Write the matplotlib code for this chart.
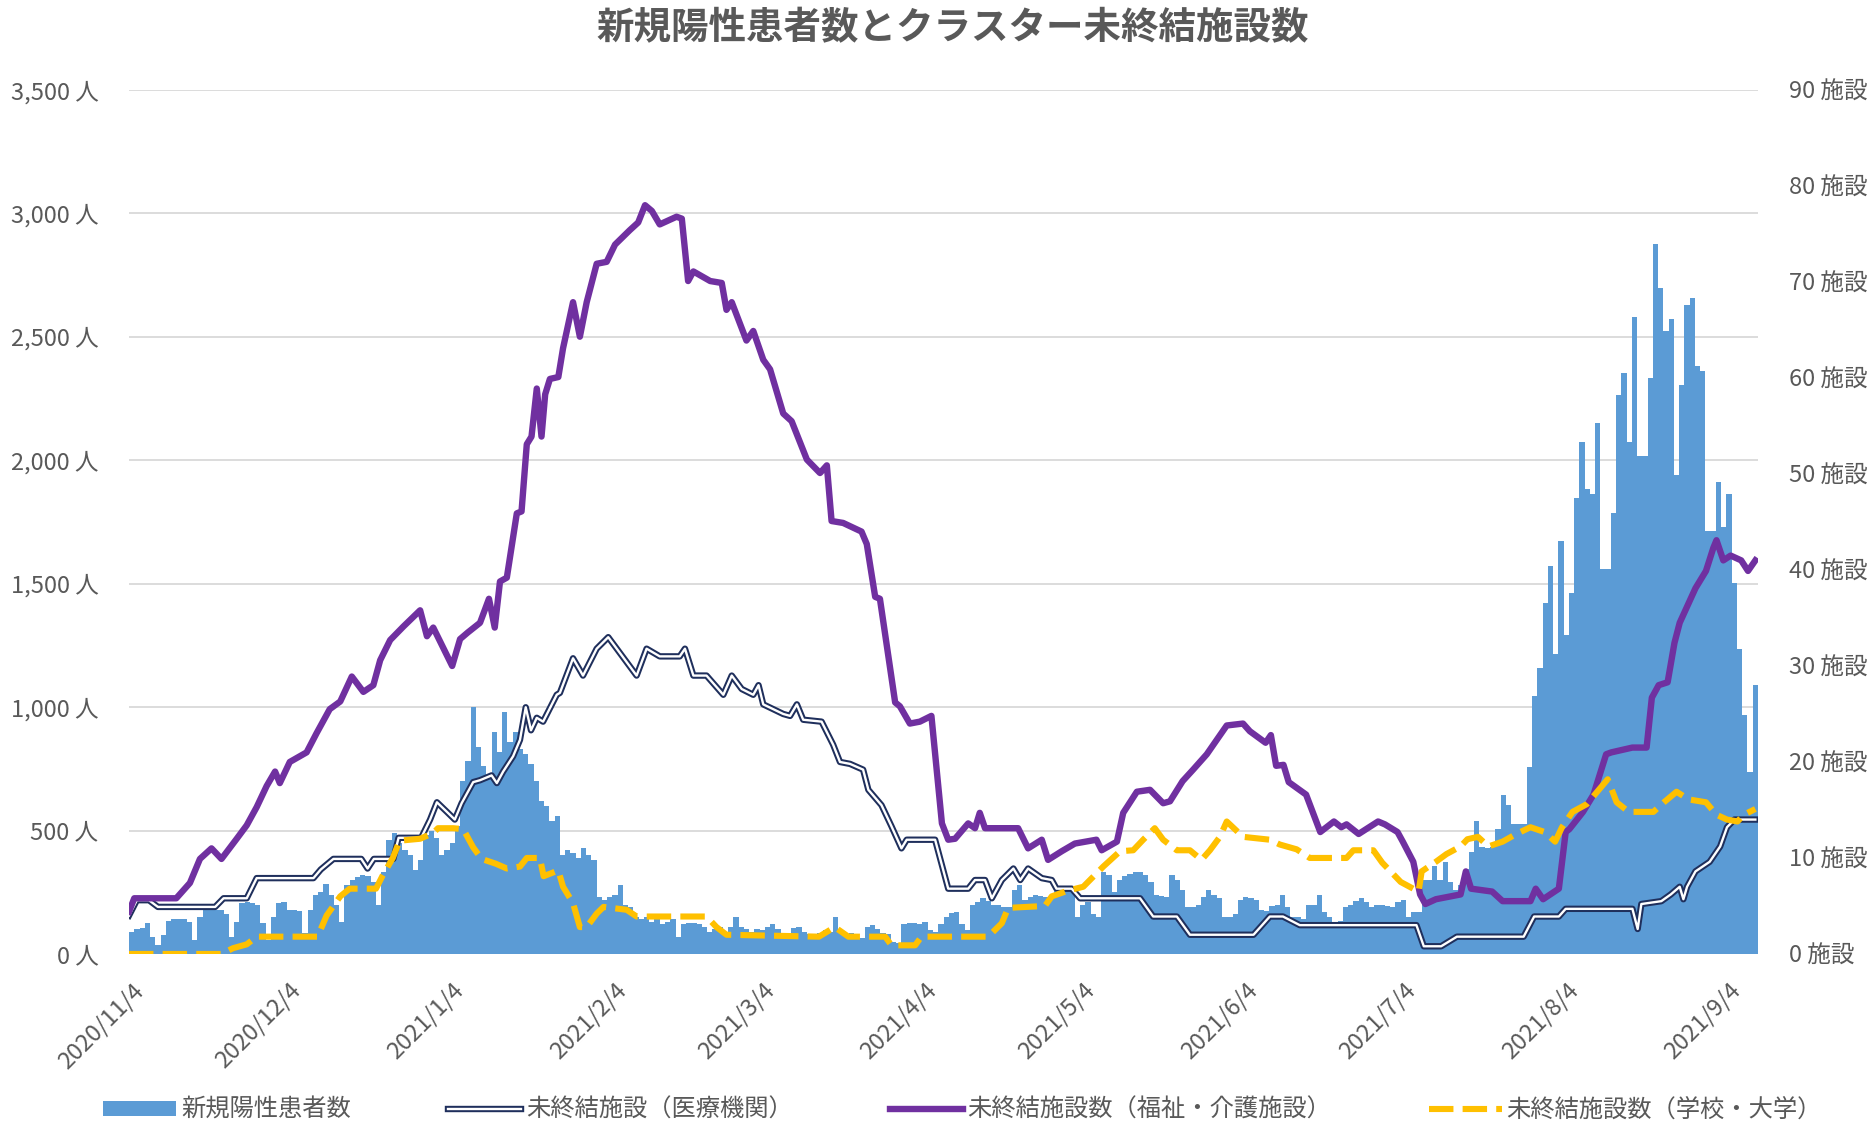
import matplotlib
matplotlib.use('Agg')
import matplotlib.pyplot as plt
import numpy as np
import pandas as pd
from matplotlib.lines import Line2D
from matplotlib.patches import Patch

plt.rcParams['font.family'] = ['Noto Sans CJK JP', 'DejaVu Sans']

# ---------------- data ----------------
start_date = '2020-11-04'
end_date = '2021-09-09'
tick_dates = ['2020/11/4', '2020/12/4', '2021/1/4', '2021/2/4', '2021/3/4', '2021/4/4',
              '2021/5/4', '2021/6/4', '2021/7/4', '2021/8/4', '2021/9/4']
left_ticks = [0, 500, 1000, 1500, 2000, 2500, 3000, 3500]
right_ticks = [0, 10, 20, 30, 40, 50, 60, 70, 80, 90]

# daily new positive cases (one value per day from 2020/11/4)
new_cases = [
    90, 100, 105, 125, 70, 35, 75,
    135, 140, 140, 140, 130, 57, 150,
    180, 180, 180, 180, 160, 70, 130,
    205, 210, 205, 200, 125, 57, 150,
    205, 210, 180, 180, 175, 84, 180,
    240, 250, 285, 240, 200, 130, 280,
    300, 310, 320, 315, 290, 200, 330,
    460, 490, 450, 420, 400, 340, 380,
    480, 500, 470, 400, 420, 450, 520,
    700, 780, 1000, 840, 760, 710, 900,
    820, 980, 860, 900, 830, 810, 770,
    700, 620, 600, 540, 560, 400, 420,
    410, 390, 430, 400, 380, 230, 220,
    230, 240, 280, 200, 190, 150, 140,
    150, 130, 140, 120, 130, 140, 70,
    120, 125, 125, 120, 110, 90, 100,
    110, 90, 110, 150, 110, 100, 90,
    100, 95, 110, 120, 100, 85, 80,
    105, 110, 90, 80, 70, 85, 95,
    90, 150, 90, 80, 85, 70, 65,
    110, 117, 100, 85, 80, 50, 45,
    120, 124, 124, 120, 130, 95, 90,
    120, 150, 165, 170, 120, 95, 200,
    210, 225, 215, 200, 200, 190, 190,
    260, 280, 220, 230, 240, 235, 230,
    240, 255, 260, 260, 255, 150, 200,
    210, 160, 150, 330, 320, 250, 300,
    315, 325, 333, 333, 320, 290, 240,
    235, 232, 320, 300, 259, 192, 190,
    200, 230, 259, 240, 225, 151, 150,
    160, 220, 232, 225, 220, 178, 175,
    195, 200, 239, 190, 151, 150, 140,
    198, 200, 240, 170, 151, 131, 135,
    190, 200, 215, 225, 210, 190, 200,
    200, 195, 190, 210, 220, 150, 170,
    170, 300, 300, 355, 300, 374, 290,
    260, 280, 346, 413, 537, 432, 430,
    435, 508, 642, 604, 527, 527, 527,
    757, 1043, 1158, 1420, 1570, 1215, 1674,
    1292, 1464, 1846, 2075, 1884, 1865, 2151,
    1560, 1560, 1788, 2266, 2352, 2075, 2581,
    2018, 2018, 2333, 2877, 2696, 2524, 2572,
    1941, 2304, 2629, 2658, 2381, 2362, 1712,
    1712, 1912, 1731, 1865, 1502, 1234, 967,
    737, 1091,
]

# unresolved clusters: medical institutions (day offset, count)
medical_days = [0, 1.5, 3.8, 5.5, 16.4, 18, 22.4, 24.3, 35.1, 36.5, 38.9, 44.2, 45.4, 46.6,
                50.3, 51.3, 55.6, 57.3, 58.6, 60.5, 62, 63.3, 65.5, 66.8, 69, 70, 71.2, 73.1,
                74.4, 75.5, 76.5, 77.6, 78.8, 81.4, 82, 84.5, 86.4, 89, 91.2, 96.6, 98.5, 101,
                104.8, 105.8, 107.4, 109.9, 113.1, 114.7, 116.6, 118.8, 119.8, 120.7, 124.5,
                125.8, 127.1, 128.3, 131.8, 134, 135.3, 137.2, 139.7, 140.7, 143.2, 145.1, 147,
                148, 153.4, 155.9, 159.7, 161, 162.9, 164.2, 166.1, 168.3, 169.6, 171.1, 173.7,
                175.6, 176.5, 179.4, 181, 192.4, 194.9, 199.4, 201.9, 214, 217.1, 219.6, 222.8,
                245, 246.4, 249.7, 252.7, 265.4, 267.4, 272.1, 273.4, 286.1, 287.1, 287.8,
                291.6, 293.4, 295.1, 295.8, 296.5, 298.1, 300.8, 302.8, 304.1, 305.5, 309.5]
medical_vals = [4.0, 5.6, 5.6, 4.9, 4.9, 5.8, 5.8, 7.9, 7.9, 8.8, 9.9, 9.9, 8.9, 9.9,
                9.9, 12.1, 12.1, 14.0, 15.8, 14.8, 14.0, 15.7, 17.9, 18.1, 18.6, 17.8, 19.0, 20.6,
                22.3, 25.7, 23.3, 24.6, 24.2, 27.0, 27.2, 30.8, 29.0, 31.8, 33.0, 29.0, 31.8, 31.0,
                31.0, 31.8, 29.0, 29.0, 27.0, 29.0, 27.6, 27.0, 28.0, 26.0, 25.0,
                24.8, 26.0, 24.4, 24.2, 21.8, 20.0, 19.8, 19.2, 17.1, 15.5, 13.3, 11.0,
                11.9, 11.9, 6.8, 6.8, 7.7, 7.7, 5.8, 7.7, 8.9, 7.7, 8.9, 7.9,
                7.7, 6.8, 6.8, 5.8, 5.8, 3.9, 3.9, 2.0, 2.0, 3.9, 3.9, 3.0,
                3.0, 0.8, 0.8, 1.8, 1.8, 3.9, 3.9, 4.7, 4.7, 2.6, 5.2,
                5.5, 6.2, 7.0, 5.7, 7.0, 8.6, 9.6, 11.2, 13.2, 14.0, 14.0]

# unresolved clusters: welfare / care facilities
welfare_days = [0, 1, 9, 11.6, 13.5, 15.7, 17.6, 20.5, 22.4, 24.3, 26.2, 27.8, 28.7, 30.6, 33.8,
                35.7, 38.2, 40.2, 42.4, 44.6, 46.5, 47.8, 49.7, 52.2, 55.4, 56.7, 57.9, 61.5, 63,
                64.5, 66.8, 68.5, 69.6, 70.6, 71.9, 73.8, 74.7, 75.7, 76.6, 77.6, 78.5, 79.2, 80.1,
                81.7, 82.6, 84.5, 85.8, 87.1, 89, 90.9, 92.5, 95.3, 96.9, 98.2, 99.5, 101, 104.2,
                105.2, 106.4, 107.4, 110.6, 112.8, 113.7, 114.7, 117.5, 118.8, 120.7, 122, 124.5,
                126.1, 129, 131.5, 132.8, 133.7, 135.9, 139.4, 140.4, 142, 142.9, 145.8, 146.7,
                148.6, 150.5, 152.7, 154.7, 155.9, 157.2, 159.7, 161, 161.9, 162.9, 169.2, 171.1,
                173.7, 174.9, 177.5, 180, 184.1, 185.1, 188, 189.2, 191.8, 194.3, 196.8, 198.1,
                200.5, 202.5, 205.1, 208.9, 212, 213.3, 216.3, 217.3, 218.3, 219.7, 220.7, 224,
                226.7, 229.3, 230.7, 231.7, 234, 237.7, 239, 241.4, 242.4, 244.4, 245.7, 246.7,
                248.7, 253.4, 254.4, 255.4, 259.4, 261.4, 266.7, 267.7, 269.1, 272.1, 273.4,
                274.1, 276.7, 278.7, 281.1, 282.1, 286.1, 288.8, 289.8, 291.1, 292.8, 294.1,
                295.1, 298.1, 300.1, 301.5, 302.1, 303.4, 304.8, 306.8, 308.1, 309.5]
welfare_vals = [4.4, 5.8, 5.8, 7.4, 9.9, 11.0, 9.9, 12.0, 13.4, 15.3, 17.5, 19.0, 17.8, 20.0, 21.0,
                23.0, 25.5, 26.3, 28.9, 27.3, 28.0, 30.6, 32.7, 34.1, 35.8, 33.1, 34.0, 30.0, 32.8,
                33.5, 34.5, 37.0, 34.0, 38.8, 39.2, 45.9, 46.1, 53.1, 53.9, 58.9, 53.9, 58.3, 59.9,
                60.1, 63.1, 67.9, 64.3, 67.9, 71.9, 72.1, 73.9, 75.4, 76.2, 78.0, 77.4, 76.0, 76.8,
                76.6, 70.1, 71.1, 70.1, 69.9, 67.1, 67.9, 63.9, 64.9, 61.9, 60.9, 56.3,
                55.5, 51.5, 50.1, 50.9, 45.1, 44.9, 44.0, 42.7, 37.2, 37.0, 26.2, 25.8,
                24.0, 24.2, 24.8, 13.6, 11.9, 12.0, 13.6, 13.1, 14.7, 13.1, 13.1, 11.0,
                11.9, 9.8, 10.7, 11.5, 11.9, 10.8, 11.7, 14.7, 16.9, 17.1, 15.7, 15.9,
                18.0, 19.2, 20.8, 23.8, 24.0, 23.2, 22.0, 22.8, 19.6, 19.7, 17.9, 16.6,
                12.7, 13.8, 13.2, 13.5, 12.5, 13.8, 13.5, 12.7, 11.7, 9.6, 6.2, 5.2,
                5.7, 6.2, 8.6, 6.8, 6.5, 5.5, 5.5, 6.8, 5.7, 6.8, 12.7,
                13.0, 14.8, 16.6, 20.8, 21.0, 21.5, 21.5, 26.7, 28.0, 28.3, 32.4,
                34.5, 38.1, 39.9, 42.3, 43.1, 41.0, 41.5, 41.0, 39.9, 41.0]

# unresolved clusters: schools / universities
school_days = [0, 17.6, 19.8, 22.4, 24.3, 35.9, 37.6, 40.2, 42, 47, 48.3, 50.2, 51.5, 55.4, 57.9,
               58.8, 61.7, 63.6, 65.5, 67.1, 69.8, 71.9, 74.4, 75.7, 78.2, 78.9, 81.7, 82.6, 84.5,
               85.8, 87.1, 89, 90.3, 94.7, 96.6, 109.9, 111.8, 113.7, 131.3, 134.3, 136.9, 143.9,
               145.1, 149.6, 150.8, 163.5, 166.1, 167.3, 174.3, 175.6, 178.7, 181.6, 185.4, 188.6,
               191.1, 193, 195.2, 196.8, 199.4, 201.9, 204.1, 205.7, 207.6, 208.9, 212, 217.1,
               219, 222.2, 224.7, 231.7, 233, 236.8, 238.5, 242, 245.4, 246, 248.7, 250.7, 253.4,
               254.7, 256.7, 258.7, 261.4, 264, 266.7, 269.4, 271.4, 272.7, 274.7, 277.4, 279.4,
               281.4, 283.1, 285.4, 290.1, 292.1, 294.5, 296.8, 300.1, 302.1, 304.1, 306.1,
               307.3, 309.5]
school_vals = [0, 0, 0.6, 1.0, 1.8, 1.8, 4.0, 6.0, 6.8, 6.8, 8.2, 10.0, 11.8, 12.0, 12.6,
               13.1, 13.1, 13.0, 11.1, 9.9, 9.4, 8.9, 9.1, 10.0, 10.0, 8.1, 8.7, 7.0, 5.3,
               2.8, 2.8, 4.2, 4.9, 4.6, 3.9, 3.9, 2.8, 2.0, 1.8, 2.8, 1.8, 1.8,
               0.9, 0.9, 1.8, 1.8, 3.2, 4.8, 5.0, 6.0, 6.6, 7.0, 9.1, 10.7,
               10.8, 11.9, 13.1, 11.9, 10.8, 10.8, 9.8, 10.8, 12.2, 13.8, 12.2, 11.9,
               11.4, 10.9, 10.0, 10.0, 10.8, 10.8, 9.5, 7.5, 6.5, 8.6, 9.6, 10.4, 11.2,
               11.95, 12.2, 11.2, 11.7, 12.5, 13.2, 12.7, 11.7, 13.2, 14.8, 15.6, 16.9,
               18.2, 15.8, 14.8, 14.8, 15.8, 16.9, 16.1, 15.8, 14.5, 14.0, 13.8,
               14.5, 15.1]

legend_labels = ['新規陽性患者数', '未終結施設（医療機関）', '未終結施設数（福祉・介護施設）', '未終結施設数（学校・大学）']
title = '新規陽性患者数とクラスター未終結施設数'

# ---------------- drawing ----------------
BAR = '#5B9BD5'
NAVY = '#1F2F5C'
PURPLE = '#7030A0'
YELLOW = '#FFC000'
TXT = '#595959'

dates = pd.date_range(start_date, end_date)
n = len(dates)
x_bar = np.arange(n) + 0.5

fig = plt.figure(figsize=(18.75, 11.28), dpi=100)
ax = fig.add_axes([0.0688, 0.1543, 0.8688, 0.7659])
ax.bar(x_bar, new_cases, width=1.0, color=BAR, zorder=2, linewidth=0)
ax.set_xlim(0, n)
ax.set_ylim(0, 3500)
ax.set_yticks(left_ticks)
ax.set_yticklabels([f'{v:,} 人' for v in left_ticks])
ax.grid(axis='y', color='#D9D9D9', lw=1.3)
ax.set_axisbelow(True)
for s in ax.spines.values():
    s.set_visible(False)
ax.tick_params(axis='y', length=0, colors=TXT, labelsize=17, pad=22)

t0 = pd.Timestamp(start_date)
tick_pos = [(pd.Timestamp(t.replace('/', '-')) - t0).days + 0.5 for t in tick_dates]
ax.set_xticks(tick_pos)
ax.set_xticklabels(tick_dates, rotation=45, ha='right', va='top', rotation_mode='anchor')
ax.tick_params(axis='x', length=0, colors=TXT, labelsize=17, pad=18)

ax2 = ax.twinx()
ax2.set_ylim(0, 90)
ax2.set_yticks(right_ticks)
ax2.set_yticklabels([f'{v} 施設' for v in right_ticks])
ax2.tick_params(axis='y', length=0, colors=TXT, labelsize=17, pad=22)
for s in ax2.spines.values():
    s.set_visible(False)

ax2.plot(medical_days, medical_vals, color=NAVY, lw=4.6, solid_joinstyle='round', zorder=3)
ax2.plot(medical_days, medical_vals, color='white', lw=1.7, solid_joinstyle='round', zorder=3.1)
ax2.plot(welfare_days, welfare_vals, color=PURPLE, lw=4.6, solid_joinstyle='round', zorder=4)
ax2.plot(school_days, school_vals, color=YELLOW, lw=4.4, dashes=(4.0, 1.5),
         dash_capstyle='butt', dash_joinstyle='round', zorder=5)

fig.text(0.508, 0.975, title, ha='center', va='center', fontsize=27, color=TXT,
         fontweight='bold')

h_bar = Patch(facecolor=BAR, edgecolor='none')
h_med = (Line2D([], [], color=NAVY, lw=4.6), Line2D([], [], color='white', lw=1.7))
h_wel = Line2D([], [], color=PURPLE, lw=4.6)
h_sch = Line2D([], [], color=YELLOW, lw=4.4, dashes=(4.0, 1.5))
fig.legend([h_bar, h_med, h_wel, h_sch], legend_labels, loc='center',
           bbox_to_anchor=(0.5134, 0.016), ncol=4, frameon=False, fontsize=17.5,
           handlelength=3.0, handletextpad=0.2, columnspacing=4.0, labelcolor=TXT,
           handleheight=0.6)

fig.savefig('out.png', dpi=100)
